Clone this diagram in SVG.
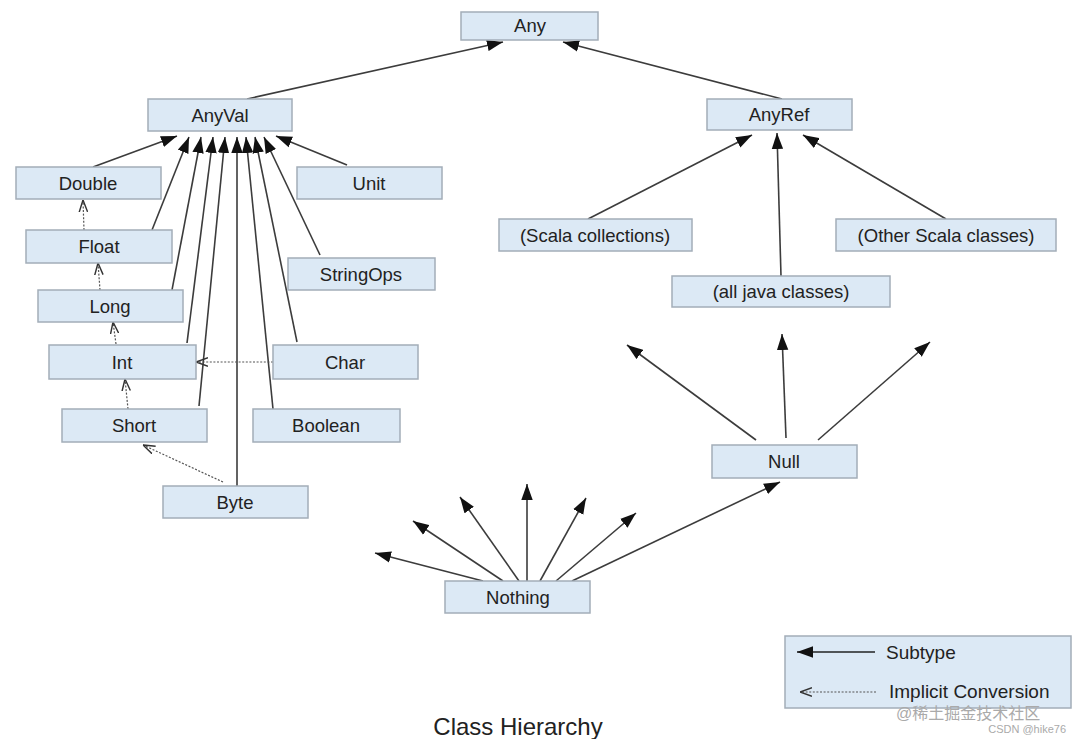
<svg xmlns="http://www.w3.org/2000/svg" width="1080" height="739" viewBox="0 0 1080 739">
<defs>
<style>
.box{fill:#dce9f5;stroke:#a3adb8;stroke-width:1.5}
.lbl{font-family:"Liberation Sans",Arial,sans-serif;font-size:18.5px;fill:#222;text-anchor:middle}
.sub{fill:none;stroke:#3c3c3c;stroke-width:1.6;marker-end:url(#solid)}
.imp{fill:none;stroke:#555;stroke-width:1.2;stroke-dasharray:2,1.6;marker-end:url(#open)}
</style>
<marker id="solid" markerUnits="userSpaceOnUse" markerWidth="16" markerHeight="12" viewBox="0 0 14 10" refX="14" refY="5" orient="auto">
<path d="M0,0 L14,5 L0,10 z" fill="#111"/>
</marker>
<marker id="open" markerUnits="userSpaceOnUse" markerWidth="12" markerHeight="10" viewBox="0 0 10 8" refX="10" refY="4" orient="auto">
<path d="M0,0.5 L10,4 L0,7.5" fill="none" stroke="#333" stroke-width="1.2"/>
</marker>
</defs>
<rect width="1080" height="739" fill="#fff"/>

<g id="connectors">
<!-- to Any -->
<line class="sub" x1="247" y1="99" x2="503" y2="42"/>
<line class="sub" x1="782" y1="99" x2="563" y2="42"/>
<!-- to AnyVal -->
<line class="sub" x1="93" y1="167" x2="177" y2="136"/>
<line class="sub" x1="152" y1="230" x2="189" y2="137"/>
<line class="sub" x1="172" y1="290" x2="201" y2="137"/>
<line class="sub" x1="187" y1="343" x2="213" y2="137"/>
<line class="sub" x1="199" y1="406" x2="225" y2="137"/>
<line class="sub" x1="237" y1="486" x2="237" y2="137"/>
<line class="sub" x1="273" y1="409" x2="246" y2="137"/>
<line class="sub" x1="297" y1="342" x2="255" y2="137"/>
<line class="sub" x1="320" y1="255" x2="264" y2="137"/>
<line class="sub" x1="347" y1="165" x2="276" y2="136"/>
<!-- implicit conversions -->
<line class="imp" x1="84" y1="230" x2="83" y2="200"/>
<line class="imp" x1="100" y1="290" x2="98" y2="263"/>
<line class="imp" x1="116" y1="344" x2="113" y2="322"/>
<line class="imp" x1="128" y1="409" x2="125" y2="379"/>
<line class="imp" x1="273" y1="362" x2="196" y2="362"/>
<line class="imp" x1="223" y1="482" x2="143" y2="445"/>
<!-- to AnyRef -->
<line class="sub" x1="588" y1="219" x2="752" y2="135"/>
<line class="sub" x1="781" y1="276" x2="777" y2="133"/>
<line class="sub" x1="946" y1="219" x2="803" y2="135"/>
<!-- from Null -->
<line class="sub" x1="756" y1="440" x2="627" y2="345"/>
<line class="sub" x1="786" y1="438" x2="782" y2="334"/>
<line class="sub" x1="818" y1="440" x2="930" y2="342"/>
<!-- from Nothing -->
<line class="sub" x1="483" y1="581" x2="375" y2="553"/>
<line class="sub" x1="503" y1="581" x2="413" y2="521"/>
<line class="sub" x1="519" y1="581" x2="460" y2="497"/>
<line class="sub" x1="527" y1="581" x2="527" y2="484"/>
<line class="sub" x1="540" y1="581" x2="586" y2="498"/>
<line class="sub" x1="556" y1="581" x2="636" y2="513"/>
<line class="sub" x1="572" y1="581" x2="780" y2="482"/>
</g>

<g id="node-any"><rect class="box" x="461" y="12" width="137" height="28"/><text class="lbl" x="530" y="32">Any</text></g>
<g id="node-anyval"><rect class="box" x="148" y="99" width="144" height="32"/><text class="lbl" x="220" y="121.5">AnyVal</text></g>
<g id="node-anyref"><rect class="box" x="707" y="99" width="145" height="31"/><text class="lbl" x="779" y="121">AnyRef</text></g>
<g id="node-double"><rect class="box" x="16" y="167" width="145" height="32"/><text class="lbl" x="88" y="189.5">Double</text></g>
<g id="node-unit"><rect class="box" x="297" y="167" width="145" height="32"/><text class="lbl" x="369" y="189.5">Unit</text></g>
<g id="node-float"><rect class="box" x="26" y="230" width="146" height="33"/><text class="lbl" x="99" y="253">Float</text></g>
<g id="node-stringops"><rect class="box" x="288" y="258" width="147" height="32"/><text class="lbl" x="361" y="280.5">StringOps</text></g>
<g id="node-long"><rect class="box" x="38" y="290" width="145" height="32"/><text class="lbl" x="110" y="312.5">Long</text></g>
<g id="node-int"><rect class="box" x="49" y="345" width="147" height="34"/><text class="lbl" x="122" y="368.5">Int</text></g>
<g id="node-char"><rect class="box" x="273" y="345" width="145" height="34"/><text class="lbl" x="345" y="368.5">Char</text></g>
<g id="node-short"><rect class="box" x="62" y="409" width="145" height="33"/><text class="lbl" x="134" y="432">Short</text></g>
<g id="node-boolean"><rect class="box" x="253" y="409" width="147" height="33"/><text class="lbl" x="326" y="432">Boolean</text></g>
<g id="node-byte"><rect class="box" x="163" y="486" width="145" height="32"/><text class="lbl" x="235" y="508.5">Byte</text></g>
<g id="node-scala-collections"><rect class="box" x="499" y="219" width="193" height="32"/><text class="lbl" x="595" y="241.5">(Scala collections)</text></g>
<g id="node-other-scala"><rect class="box" x="836" y="219" width="220" height="32"/><text class="lbl" x="946" y="241.5">(Other Scala classes)</text></g>
<g id="node-java"><rect class="box" x="672" y="276" width="218" height="31"/><text class="lbl" x="781" y="298">(all java classes)</text></g>
<g id="node-null"><rect class="box" x="712" y="445" width="145" height="33"/><text class="lbl" x="784" y="468">Null</text></g>
<g id="node-nothing"><rect class="box" x="445" y="581" width="145" height="32"/><text class="lbl" x="518" y="603.5">Nothing</text></g>

<g id="legend">
<rect class="box" x="785" y="636" width="286" height="72"/>
<line x1="875" y1="652" x2="797" y2="652" stroke="#222" stroke-width="1.6" marker-end="url(#solid)"/>
<text x="886" y="659" font-family="'Liberation Sans',Arial,sans-serif" font-size="19" fill="#222">Subtype</text>
<line class="imp" x1="876" y1="692" x2="800" y2="692"/>
<text x="889" y="698" font-family="'Liberation Sans',Arial,sans-serif" font-size="19" fill="#222">Implicit Conversion</text>
</g>

<text id="title" x="518" y="735" font-family="'Liberation Sans',Arial,sans-serif" font-size="24" fill="#222" text-anchor="middle">Class Hierarchy</text>

<g id="watermark" font-family="'Liberation Sans','Noto Sans CJK SC',sans-serif" fill="#aaa">
<text x="896" y="719" font-size="16">@稀土掘金技术社区</text>
<text x="1066" y="733" font-size="11" text-anchor="end">CSDN @hike76</text>
</g>
</svg>
